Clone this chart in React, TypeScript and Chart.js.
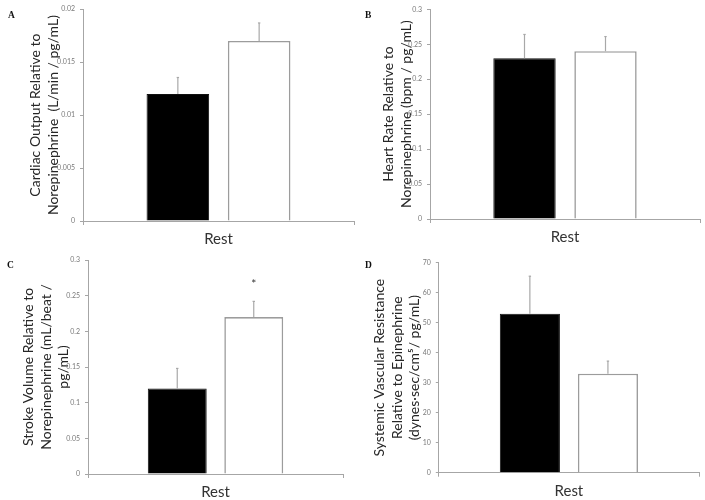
import React, { useEffect, useRef } from 'react';
import { Chart, registerables } from 'chart.js';

Chart.register(...registerables);

// ---------- data ----------
const categories = ['Rest'];
const seriesNames = ['Group 1', 'Group 2'];

const coValues = [0.012, 0.017];
const coErrors = [0.01355, 0.0187];
const coTicks = [0, 0.005, 0.01, 0.015, 0.02];
const coTitle = ['Cardiac Output Relative to', 'Norepinephrine  (L/min / pg/mL)'];

const hrValues = [0.23, 0.24];
const hrErrors = [0.264, 0.261];
const hrTicks = [0, 0.05, 0.1, 0.15, 0.2, 0.25, 0.3];
const hrTitle = ['Heart Rate Relative to', 'Norepinephrine (bpm / pg/mL)'];

const svValues = [0.12, 0.22];
const svErrors = [0.148, 0.242];
const svTicks = [0, 0.05, 0.1, 0.15, 0.2, 0.25, 0.3];
const svTitle = ['Stroke Volume Relative to', 'Norepinephrine (mL/beat /', 'pg/mL)'];
const svMarks = ['', '*'];

const svrValues = [53, 33];
const svrErrors = [65.5, 37.2];
const svrTicks = [0, 10, 20, 30, 40, 50, 60, 70];
const svrTitle = ['Systemic Vascular Resistance', 'Relative to Epinephrine', '(dynes·sec/cm⁵/ pg/mL)'];

const panelLetters = ['A', 'B', 'C', 'D'];

// ---------- layout ----------
type Frame = { x0: number; y0: number; w: number; h: number; left: number; top: number; right: number; bottom: number; titlePad: number; lx: number; ly: number };

const frames: Frame[] = [
  { x0: 0, y0: 0, w: 358, h: 250, left: 83, top: 8.5, right: 354, bottom: 221, titlePad: 27, lx: 8, ly: 11 },
  { x0: 352, y0: 0, w: 353, h: 250, left: 430, top: 9.3, right: 700, bottom: 219, titlePad: 28, lx: 365, ly: 11 },
  { x0: 0, y0: 250, w: 352, h: 250, left: 88, top: 260, right: 343, bottom: 474, titlePad: 20, lx: 7, ly: 261 },
  { x0: 352, y0: 250, w: 353, h: 250, left: 438.8, top: 262.7, right: 699, bottom: 472.7, titlePad: 19, lx: 365, ly: 261 },
];

const FONT = 'Lato, "Open Sans", sans-serif';

type PanelProps = {
  frame: Frame;
  values: number[];
  errors: number[];
  ticks: number[];
  title: string[];
  marks?: string[];
};

function Panel({ frame, values, errors, ticks, title, marks }: PanelProps) {
  const ref = useRef<HTMLCanvasElement>(null);

  useEffect(() => {
    if (!ref.current) return;
    const { x0, y0, w, h, left, top, right, bottom, titlePad } = frame;

    const errorPlugin = {
      id: 'errorBars',
      afterDatasetsDraw(chart: any) {
        const ctx = chart.ctx;
        const ys = chart.scales.y;
        chart.data.datasets.forEach((_ds: any, i: number) => {
          const bar = chart.getDatasetMeta(i).data[0];
          if (!bar) return;
          const yTop = ys.getPixelForValue(errors[i]);
          ctx.save();
          ctx.strokeStyle = '#a8a8a8';
          ctx.lineWidth = 1.2;
          ctx.beginPath();
          ctx.moveTo(bar.x, bar.y);
          ctx.lineTo(bar.x, yTop);
          ctx.stroke();
          ctx.beginPath();
          ctx.moveTo(bar.x - 1.2, yTop);
          ctx.lineTo(bar.x + 1.2, yTop);
          ctx.stroke();
          if (marks && marks[i]) {
            ctx.fillStyle = '#333';
            ctx.font = `12px ${FONT}`;
            ctx.textAlign = 'center';
            ctx.textBaseline = 'middle';
            ctx.fillText(marks[i], bar.x, yTop - 17);
          }
          ctx.restore();
        });
      },
    };

    const chart = new Chart(ref.current, {
      type: 'bar',
      data: {
        labels: categories,
        datasets: [
          {
            label: seriesNames[0],
            data: [values[0]],
            backgroundColor: '#000000',
            borderColor: '#111111',
            borderWidth: 1,
            categoryPercentage: 0.6,
            barPercentage: 0.77,
          },
          {
            label: seriesNames[1],
            data: [values[1]],
            backgroundColor: '#ffffff',
            borderColor: '#9c9c9c',
            borderWidth: 1.6,
            categoryPercentage: 0.6,
            barPercentage: 0.77,
          },
        ],
      },
      options: {
        animation: false,
        responsive: true,
        maintainAspectRatio: false,
        layout: {
          padding: { left: 0, top: top - y0, right: x0 + w - right, bottom: 0 },
        },
        plugins: {
          legend: { display: false },
          tooltip: { enabled: false },
        },
        scales: {
          x: {
            type: 'category',
            offset: true,
            z: 1,
            grid: {
              display: true,
              drawOnChartArea: false,
              drawTicks: true,
              tickLength: 4,
              offset: true,
              color: '#a6a6a6',
            },
            border: { display: true, color: '#a6a6a6', width: 1 },
            ticks: {
              color: '#333333',
              font: { family: FONT, size: 15 },
              padding: 5,
              maxRotation: 0,
            },
            afterFit: (s: any) => {
              s.height = y0 + h - bottom;
            },
          },
          y: {
            type: 'linear',
            min: ticks[0],
            max: ticks[ticks.length - 1],
            afterBuildTicks: (s: any) => {
              s.ticks = ticks.map((v) => ({ value: v }));
            },
            ticks: {
              color: '#7a7a7a',
              font: { family: FONT, size: 7 },
              padding: 5,
              callback: (v: any) => String(v),
            },
            grid: {
              display: true,
              drawOnChartArea: false,
              drawTicks: true,
              tickLength: 3,
              color: '#a6a6a6',
            },
            border: { display: true, color: '#a6a6a6', width: 1 },
            title: {
              display: true,
              text: title,
              color: '#262626',
              font: { family: FONT, size: 14, lineHeight: 1.25 },
              padding: { top: titlePad, bottom: 0 },
            },
            afterFit: (s: any) => {
              s.width = left - x0;
            },
          },
        },
      },
      plugins: [errorPlugin],
    } as any);

    return () => chart.destroy();
  }, []);

  return (
    <div style={{ position: 'absolute', left: frame.x0, top: frame.y0, width: frame.w, height: frame.h }}>
      <canvas ref={ref} />
    </div>
  );
}

export default function App() {
  return (
    <div style={{ position: 'absolute', left: 0, top: 0, width: 705, height: 500, background: '#ffffff', overflow: 'hidden' }}>
      <Panel frame={frames[0]} values={coValues} errors={coErrors} ticks={coTicks} title={coTitle} />
      <Panel frame={frames[1]} values={hrValues} errors={hrErrors} ticks={hrTicks} title={hrTitle} />
      <Panel frame={frames[2]} values={svValues} errors={svErrors} ticks={svTicks} title={svTitle} marks={svMarks} />
      <Panel frame={frames[3]} values={svrValues} errors={svrErrors} ticks={svrTicks} title={svrTitle} />
      {panelLetters.map((letter, i) => (
        <div
          key={letter}
          style={{
            position: 'absolute',
            left: frames[i].lx,
            top: frames[i].ly,
            fontFamily: '"Liberation Serif", "DejaVu Serif", serif',
            fontWeight: 'bold',
            fontSize: 9.5,
            lineHeight: '9.5px',
            color: '#111',
          }}
        >
          {letter}
        </div>
      ))}
    </div>
  );
}
